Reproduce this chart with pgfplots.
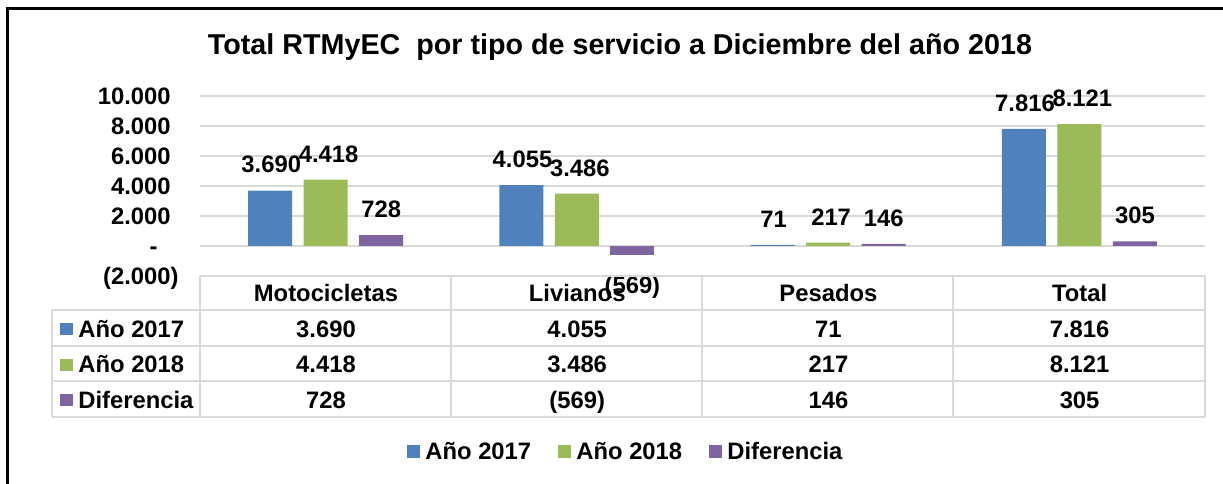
\documentclass[border=0pt]{standalone}
\usepackage{fontspec}
\setmainfont{Liberation Sans}
\usepackage{pgfplots}
\pgfplotsset{compat=1.18}
\definecolor{cA}{HTML}{4F81BD}
\definecolor{cB}{HTML}{9BBB59}
\definecolor{cC}{HTML}{8064A2}
\definecolor{grd}{HTML}{D9D9D9}
\newcommand\fn{\fontsize{11.9pt}{14pt}\selectfont\bfseries}
\newcommand\ft{\fontsize{14.35pt}{17pt}\selectfont\bfseries}
\begin{document}
\begin{tikzpicture}
\useasboundingbox (0pt,0pt) rectangle (611.5pt,241.5pt);
\clip (0pt,0pt) rectangle (611.5pt,241.5pt);
\fill[white] (0pt,0pt) rectangle (611.5pt,241.5pt);
\begin{axis}[
  at={(100pt,103.5pt)}, anchor=south west, scale only axis,
  width=502.5pt, height=90pt,
  xmin=-0.5, xmax=3.5, ymin=-2000, ymax=10000,
  xtick=\empty,
  ytick={-2000,0,2000,4000,6000,8000,10000},
  scaled y ticks=false,
  yticklabels={(2.000),-\hphantom{0)},2.000\hphantom{)},4.000\hphantom{)},6.000\hphantom{)},8.000\hphantom{)},10.000\hphantom{)}},
  axis line style={draw=none}, major tick length=0pt,
  ymajorgrids, grid style={grd, line width=1pt},
  yticklabel style={font=\fn, anchor=base east, inner sep=0pt, xshift=-10.5pt, yshift=-4.25pt},
  point meta=explicit symbolic,
  clip=false,
  lblpos/.style={nodes near coords, every node near coord/.append style={font=\fn, anchor=south, inner sep=0pt, yshift=8.5pt, xshift=#1}},
  lblneg/.style={nodes near coords, every node near coord/.append style={font=\fn, anchor=north, inner sep=0pt, yshift=-10.5pt, xshift=#1}},
]
\addplot[ybar, bar width=0.175, bar shift=-0.221, fill=cA, draw=none, lblpos=-27.2pt]
  coordinates {(0,3690)[3.690] (1,4055)[4.055] (2,71)[71] (3,7816)[7.816]};
\addplot[ybar, bar width=0.175, bar shift=0, fill=cB, draw=none, lblpos=1.5pt]
  coordinates {(0,4418)[4.418] (1,3486)[3.486] (2,217)[217] (3,8121)[8.121]};
\addplot[ybar, bar width=0.175, bar shift=0.221, fill=cC, draw=none, lblpos=27.76pt]
  coordinates {(0,728)[728] (2,146)[146] (3,305)[305]};
\addplot[ybar, bar width=0.175, bar shift=0.221, fill=cC, draw=none, lblneg=27.76pt]
  coordinates {(1,-569)[(569)]};
\end{axis}
\begin{scope}[shift={(0pt,241.5pt)}, x=0.5pt, y=-0.5pt]
\draw[black, line width=1.5pt] (7,500) -- (7,9) -- (1240,9);
\node[anchor=base, inner sep=0pt] at (620,55) {\ft Total RTMyEC\ \ por tipo de servicio a Diciembre del año 2018};
% data table
\begin{scope}[grd, line width=1pt]
\draw (200,276) -- (1205,276);
\foreach \yy in {310,345.5,381,416.5} \draw (52,\yy) -- (1205,\yy);
\draw (52,310) -- (52,416.5);
\foreach \xx in {200,451,702,953,1205} \draw (\xx,276) -- (\xx,416.5);
\end{scope}
\foreach \t [count=\i from 0] in {Motocicletas,Livianos,Pesados,Total}
  \node[anchor=base, inner sep=0pt] at (326+251.2*\i,301) {\fn \t};
\foreach \t [count=\i from 0] in {3.690,4.055,71,7.816}
  \node[anchor=base, inner sep=0pt] at (326+251.2*\i,337) {\fn \t};
\foreach \t [count=\i from 0] in {4.418,3.486,217,8.121}
  \node[anchor=base, inner sep=0pt] at (326+251.2*\i,372.5) {\fn \t};
\foreach \t [count=\i from 0] in {728,(569),146,305}
  \node[anchor=base, inner sep=0pt] at (326+251.2*\i,408) {\fn \t};
\fill[cA] (60,323) rectangle (72.5,335);
\fill[cB] (60,358.5) rectangle (72.5,370.5);
\fill[cC] (60,394) rectangle (72.5,406);
\node[anchor=base west, inner sep=0pt] at (78,337) {\fn Año 2017};
\node[anchor=base west, inner sep=0pt] at (78,372.5) {\fn Año 2018};
\node[anchor=base west, inner sep=0pt] at (78,408) {\fn Diferencia};
% legend
\fill[cA] (407,445) rectangle (420,458);
\fill[cB] (558,445) rectangle (571,458);
\fill[cC] (709,445) rectangle (722,458);
\node[anchor=base west, inner sep=0pt] at (425,459) {\fn Año 2017};
\node[anchor=base west, inner sep=0pt] at (576,459) {\fn Año 2018};
\node[anchor=base west, inner sep=0pt] at (727,459) {\fn Diferencia};
\end{scope}
\end{tikzpicture}
\end{document}
